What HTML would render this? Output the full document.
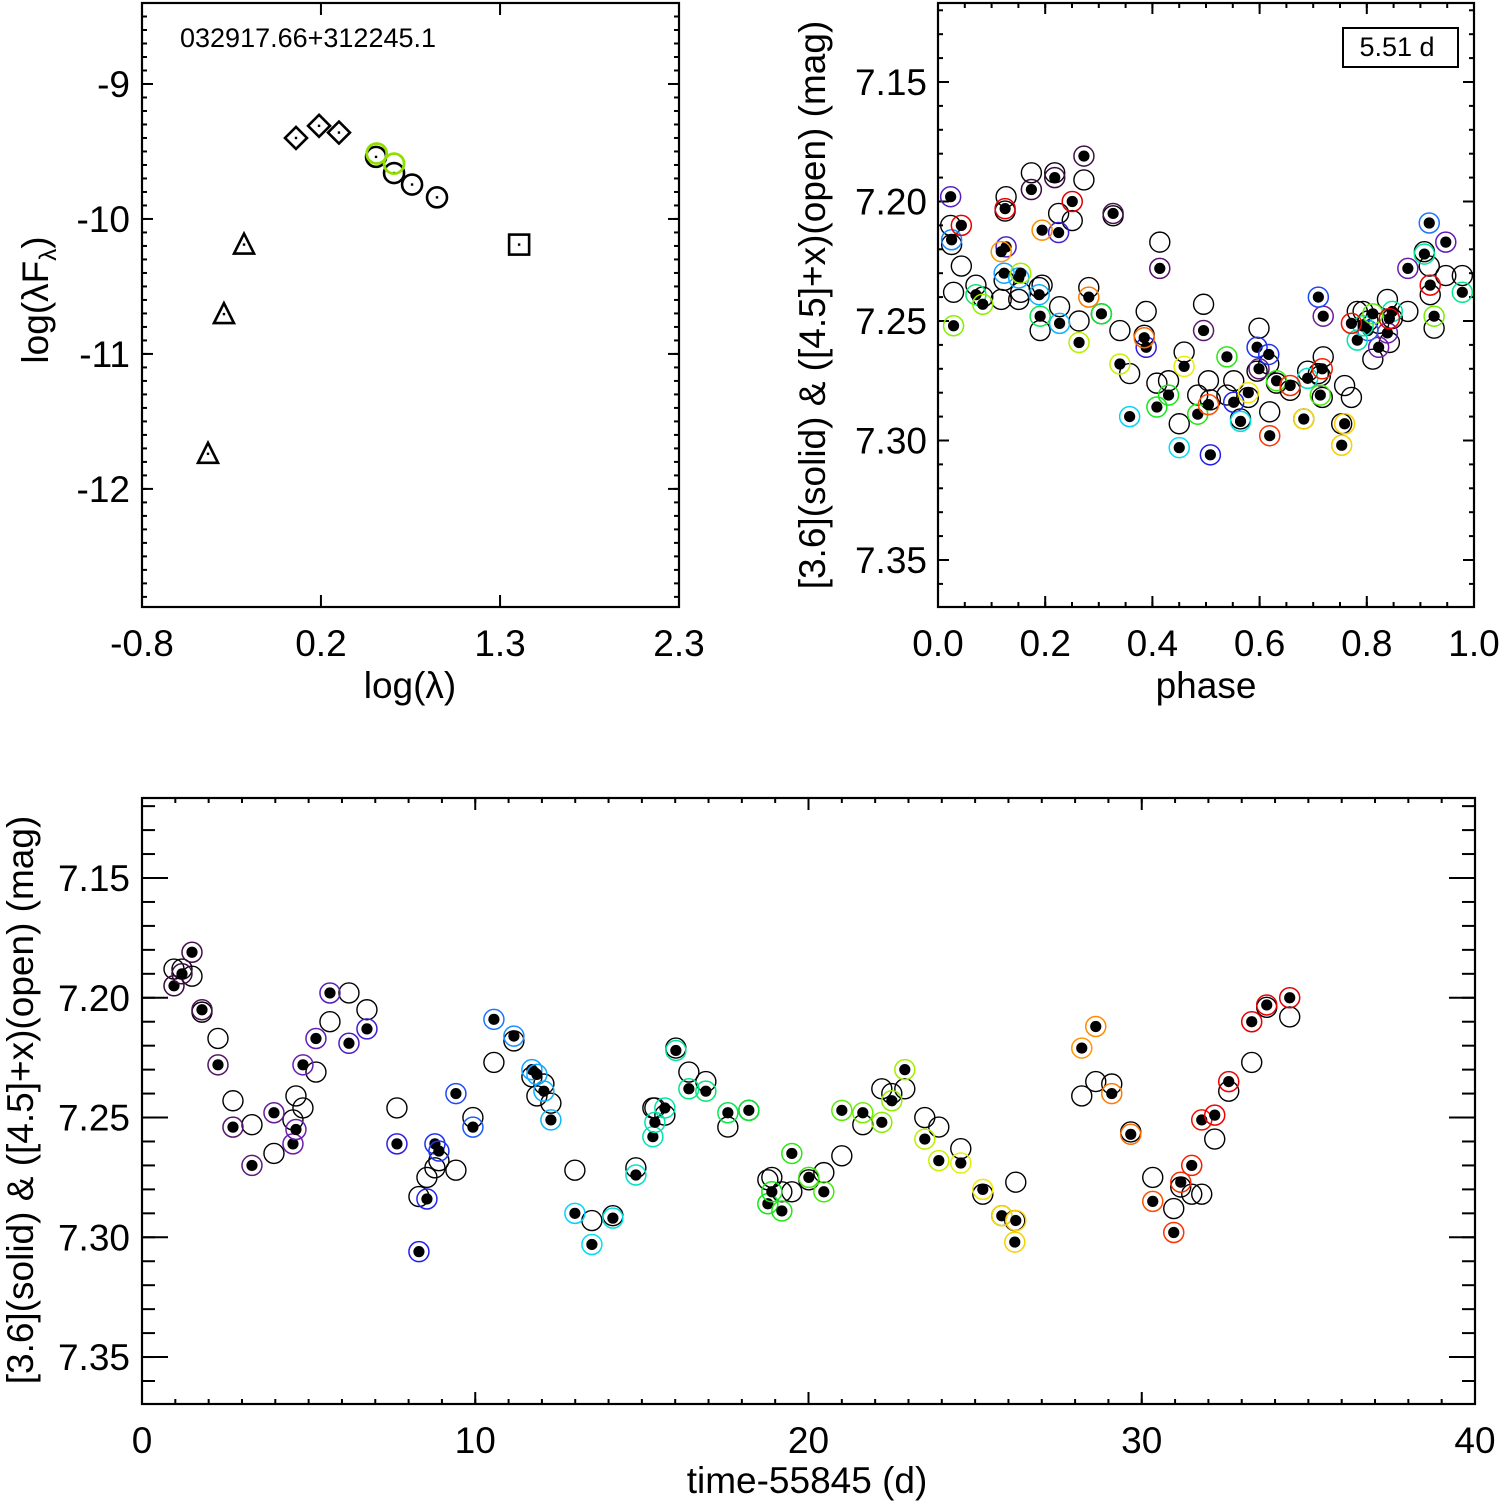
<!DOCTYPE html>
<html><head><meta charset="utf-8"><style>
html,body{margin:0;padding:0;background:#fff;}
svg{display:block;font-family:"Liberation Sans",Arial,sans-serif;}
</style></head><body>
<svg id="fig" width="1500" height="1501" viewBox="0 0 1500 1501" xmlns="http://www.w3.org/2000/svg">
<rect x="0" y="0" width="1500" height="1501" fill="#fff"/>
</svg>
<script>
// ---- light curve data (time-55845, [3.6] solid, [4.5]+x open) ----
const tDays=[0.96,1.20,1.50,1.80,2.28,2.73,3.30,3.96,4.53,4.62,4.83,5.22,5.64,6.21,6.75,7.65,8.31,8.55,8.79,8.91,9.42,9.93,10.56,11.16,11.70,11.85,12.06,12.27,12.99,13.50,14.13,14.82,15.33,15.39,15.69,16.02,16.41,16.92,17.58,18.21,18.78,18.90,19.20,19.50,20.01,20.46,21.00,21.63,22.20,22.50,22.89,23.49,23.91,24.57,25.23,25.80,26.19,26.22,28.20,28.62,29.10,29.67,30.33,30.96,31.17,31.50,31.80,32.19,32.61,33.30,33.75,34.44];
const mag36=[7.195,7.190,7.181,7.205,7.228,7.254,7.270,7.248,7.261,7.255,7.228,7.217,7.198,7.219,7.213,7.261,7.306,7.284,7.261,7.264,7.240,7.254,7.209,7.216,7.230,7.232,7.239,7.251,7.290,7.303,7.292,7.274,7.258,7.252,7.246,7.222,7.238,7.239,7.248,7.247,7.286,7.281,7.289,7.265,7.275,7.281,7.247,7.248,7.252,7.243,7.230,7.259,7.268,7.269,7.280,7.291,7.302,7.293,7.221,7.212,7.240,7.257,7.285,7.298,7.277,7.270,7.251,7.249,7.235,7.210,7.203,7.200];
const mag45=[7.188,7.188,7.191,7.206,7.217,7.243,7.253,7.265,7.251,7.241,7.246,7.231,7.210,7.198,7.205,7.246,7.283,7.275,7.271,7.268,7.272,7.250,7.227,7.218,7.233,7.241,7.236,7.244,7.272,7.293,7.291,7.271,7.246,7.246,7.249,7.221,7.231,7.235,7.254,7.247,7.276,7.275,7.281,7.281,7.276,7.273,7.266,7.253,7.238,7.240,7.238,7.250,7.254,7.263,7.282,7.291,7.293,7.277,7.241,7.235,7.236,7.256,7.275,7.288,7.279,7.282,7.282,7.259,7.239,7.227,7.204,7.208];
const period=5.51;
// ---- SED data ----
const sedX=[-0.419,-0.327,-0.211,0.089,0.222,0.337,0.551,0.655,0.759,0.903,1.377];
const sedY=[-11.74,-10.705,-10.19,-9.40,-9.31,-9.36,-9.54,-9.66,-9.745,-9.84,-10.19];
const sedSym=['tri','tri','tri','dia','dia','dia','circ','circ','circ','circ','sq'];
const sedGreenX=[0.555,0.655];
const sedGreenY=[-9.515,-9.59];
// ---- tick labels ----
const sedXTicks=[-0.8,0.233,1.267,2.3];
const sedXLabels=['-0.8','0.2','1.3','2.3'];
const sedYTicks=[-9,-10,-11,-12];
const magTicks=[7.15,7.20,7.25,7.30,7.35];
const magLabels=['7.15','7.20','7.25','7.30','7.35'];
const phaseTicks=[0,0.2,0.4,0.6,0.8,1.0];
const phaseLabels=['0.0','0.2','0.4','0.6','0.8','1.0'];
const timeTicks=[0,10,20,30,40];

const NS='http://www.w3.org/2000/svg';
const svg=document.getElementById('fig');
function mk(tag,attrs,parent){const e=document.createElementNS(NS,tag);for(const k in attrs)e.setAttribute(k,attrs[k]);(parent||svg).appendChild(e);return e;}

const P1={x0:142,x1:679,y0:3,y1:607,xmin:-0.8,xmax:2.3,ytop:-8.4,ybot:-12.875};
const P2={x0:938,x1:1474,y0:3,y1:607,xmin:0,xmax:1,ytop:7.11695,ybot:7.36967};
const P3={x0:142,x1:1475,y0:798,y1:1404,xmin:0,xmax:40,ytop:7.1166,ybot:7.3696};
function sx(P,v){return P.x0+(v-P.xmin)/(P.xmax-P.xmin)*(P.x1-P.x0);}
function sy(P,v){return P.y0+(v-P.ytop)/(P.ybot-P.ytop)*(P.y1-P.y0);}

function ringColor(t){
  const stops=[[0,[40,0,40]],[0.06,[80,20,90]],[0.13,[110,30,170]],[0.24,[30,30,240]],[0.31,[30,130,255]],[0.38,[0,220,255]],[0.46,[0,230,150]],[0.54,[20,230,20]],[0.64,[140,240,0]],[0.71,[240,240,0]],[0.78,[255,180,0]],[0.86,[255,90,0]],[0.92,[240,0,0]],[1,[220,0,0]]];
  const f=Math.max(0,Math.min(1,t/35));
  for(let i=1;i<stops.length;i++){if(f<=stops[i][0]){const a=stops[i-1],b=stops[i];const u=(f-a[0])/(b[0]-a[0]);const c=a[1].map((v,j)=>Math.round(v+(b[1][j]-v)*u));return 'rgb('+c.join(',')+')';}}
  return 'rgb(220,0,0)';
}

function frame(P,name){
  const r=mk('rect',{x:P.x0,y:P.y0,width:P.x1-P.x0,height:P.y1-P.y0,fill:'none',stroke:'#000','stroke-width':2.2});
  
  
}
function ticksX(P,vals,minorStep,maj,min,name){
  const g=mk('g',{stroke:'#000','stroke-width':2});
  
  
  if(minorStep){for(let v=P.xmin;v<=P.xmax+1e-9;v+=minorStep){const x=sx(P,v);mk('line',{x1:x,x2:x,y1:P.y1,y2:P.y1-min},g);mk('line',{x1:x,x2:x,y1:P.y0,y2:P.y0+min},g);}}
  vals.forEach(v=>{const x=sx(P,v);mk('line',{x1:x,x2:x,y1:P.y1,y2:P.y1-maj},g);mk('line',{x1:x,x2:x,y1:P.y0,y2:P.y0+maj},g);});
}
function ticksY(P,vals,minorStep,maj,min,name){
  const g=mk('g',{stroke:'#000','stroke-width':2});
  
  
  const lo=Math.min(P.ytop,P.ybot),hi=Math.max(P.ytop,P.ybot);
  const start=Math.ceil(lo/minorStep-1e-6)*minorStep;
  for(let v=start;v<=hi+1e-9;v+=minorStep){const y=sy(P,v);mk('line',{x1:P.x0,x2:P.x0+min,y1:y,y2:y},g);mk('line',{x1:P.x1,x2:P.x1-min,y1:y,y2:y},g);}
  vals.forEach(v=>{const y=sy(P,v);mk('line',{x1:P.x0,x2:P.x0+maj,y1:y,y2:y},g);mk('line',{x1:P.x1,x2:P.x1-maj,y1:y,y2:y},g);});
}
function label(x,y,txt,anchor,size,name,rot){
  const t=mk('text',{x:x,y:y,'text-anchor':anchor,'font-size':size,fill:'#000'});
  if(rot)t.setAttribute('transform','rotate(-90 '+x+' '+y+')');
  t.textContent=txt;
  
  
  return t;
}
const FS=37;

// ===== Panel 1: SED =====
frame(P1,'sed');
ticksX(P1,sedXTicks.slice(1,3),0,12,0,'sed');
ticksY(P1,sedYTicks,0.1,11,5,'sed');
sedXTicks.forEach((v,i)=>label(sx(P1,v),656,sedXLabels[i],'middle',FS,'sed-x-tick-label'));
sedYTicks.forEach(v=>label(130,sy(P1,v)+13,String(v),'end',FS,'sed-y-tick-label'));
label(410,698,'log(λ)','middle',FS,'sed-x-axis-title');
(function(){const t=mk('text',{x:48,y:300,'text-anchor':'middle','font-size':FS,transform:'rotate(-90 48 300)'});t.innerHTML='log(λF<tspan font-size="24" dy="8">λ</tspan><tspan dy="-8">)</tspan>';})();
label(180,47,'032917.66+312245.1','start',27,'source-name');
const sedG=mk('g',{fill:'none',stroke:'#000','stroke-width':2.6});


sedX.forEach((v,i)=>{
  const x=sx(P1,v),y=sy(P1,sedY[i]);let e;
  if(sedSym[i]==='tri')e=mk('polygon',{points:(x-10)+','+(y+9)+' '+(x+10)+','+(y+9)+' '+x+','+(y-11)},sedG);
  else if(sedSym[i]==='dia')e=mk('polygon',{points:x+','+(y-11)+' '+(x+11)+','+y+' '+x+','+(y+11)+' '+(x-11)+','+y},sedG);
  else if(sedSym[i]==='sq')e=mk('rect',{x:x-10,y:y-10,width:20,height:20},sedG);
  else e=mk('circle',{cx:x,cy:y,r:10},sedG);
  
  
  const d=mk('rect',{x:x-1.2,y:y-1.2,width:2.4,height:2.4,fill:'#000',stroke:'none'},sedG);
  
  
});
sedGreenX.forEach((v,i)=>{
  const c=mk('circle',{cx:sx(P1,v),cy:sy(P1,sedGreenY[i]),r:10,fill:'none',stroke:'#8fe000','stroke-width':2.8});
  
  
});

// ===== Panel 2: phased =====
frame(P2,'phase-panel');
ticksX(P2,phaseTicks,0.05,11,5,'phase-panel');
ticksY(P2,magTicks,0.01,11,5,'phase-panel');
phaseTicks.forEach((v,i)=>label(sx(P2,v),656,phaseLabels[i],'middle',FS,'phase-x-tick-label'));
magTicks.forEach((v,i)=>label(927,sy(P2,v)+13,magLabels[i],'end',FS,'phase-y-tick-label'));
label(1206,698,'phase','middle',FS,'phase-x-axis-title');
label(825,305,'[3.6](solid) & ([4.5]+x)(open) (mag)','middle',FS,'phase-y-axis-title',true);
(function(){const r=mk('rect',{x:1343,y:28,width:115,height:39,fill:'#fff',stroke:'#000','stroke-width':2});})();
label(1397,56,'5.51 d','middle',27,'period-label');

function drawPoints(P,xs,name){
  const g=mk('g',{});
  
  
  xs.forEach((xv,i)=>{
    const x=sx(P,xv);
    const o=mk('circle',{cx:x,cy:sy(P,mag45[i]),r:10,fill:'none',stroke:'#000','stroke-width':1.4},g);
    
    
  });
  xs.forEach((xv,i)=>{
    const x=sx(P,xv),y=sy(P,mag36[i]);
    const s=mk('circle',{cx:x,cy:y,r:5.6,fill:'#000'},g);
    
    
    const rr=mk('circle',{cx:x,cy:y,r:10,fill:'none',stroke:ringColor(tDays[i]),'stroke-width':1.5},g);
    
    
  });
}
const phases=tDays.map(t=>(t/period)%1);
drawPoints(P2,phases,'phase-panel');

// ===== Panel 3: time series =====
frame(P3,'time-panel');
ticksX(P3,timeTicks,1,12,5,'time-panel');
ticksY(P3,magTicks,0.01,26,13,'time-panel');
timeTicks.forEach(v=>label(sx(P3,v),1453,String(v),'middle',FS,'time-x-tick-label'));
magTicks.forEach((v,i)=>label(130,sy(P3,v)+13,magLabels[i],'end',FS,'time-y-tick-label'));
label(807,1493,'time-55845 (d)','middle',FS,'time-x-axis-title');
label(33,1100,'[3.6](solid) & ([4.5]+x)(open) (mag)','middle',FS,'time-y-axis-title',true);
drawPoints(P3,tDays,'time-panel');
</script>
</body></html>
